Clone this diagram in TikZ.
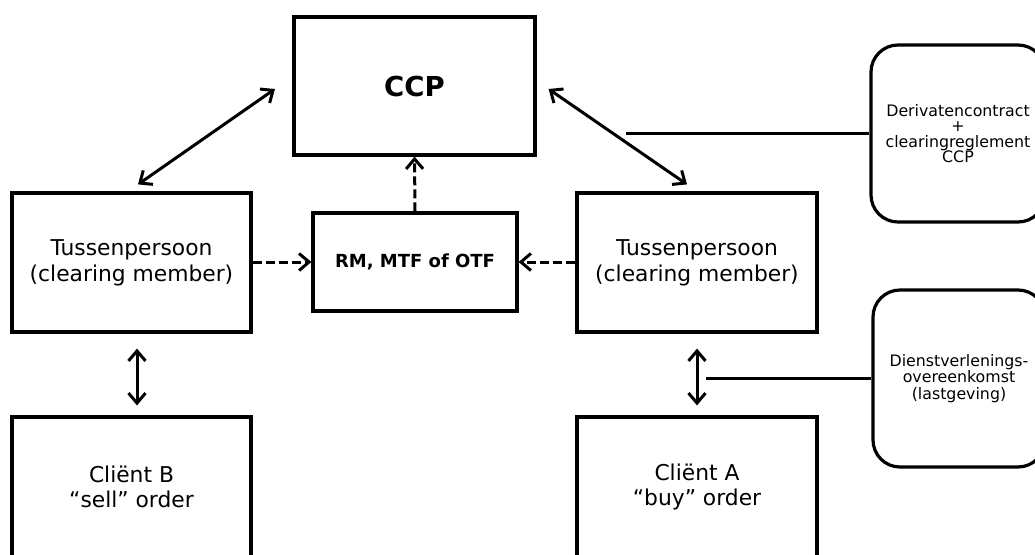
\documentclass[tikz,border=0pt]{standalone}
\usepackage{fontspec}
\setmainfont{DejaVu Sans}
\usetikzlibrary{arrows.meta,calc}
\begin{document}
\begin{tikzpicture}[x=1pt,y=-1pt,
  box/.style={draw,line width=3.2pt,align=center,inner sep=0pt},
  rbox/.style={box,rounded corners=27pt},
  conn/.style={line width=3pt},
  tipx/.tip={Straight Barb[length=10pt,width=17pt,line width=3pt]},
  dbl/.style={conn,tipx-tipx},
  dasharrow/.style={conn,dash pattern=on 9pt off 4pt,-tipx},
  mtext/.style={font=\fontsize{21.8}{26}\selectfont},
  ctext/.style={font=\fontsize{21.8}{25}\selectfont},
]
\useasboundingbox (0,0) rectangle (1035,554);
\clip (0,0) rectangle (1035,554);
\fill[white] (0,0) rectangle (1035,554);

\node[box,minimum width=241pt,minimum height=138pt,font=\fontsize{27.5}{30}\selectfont\bfseries] (CCP) at (414.5,86) {CCP};
\node[box,mtext,minimum width=239pt,minimum height=139pt] (TL) at (131.5,262.5) {Tussenpersoon\\(clearing member)};
\node[box,mtext,minimum width=240pt,minimum height=139pt] (TR) at (697,262.5) {Tussenpersoon\\(clearing member)};
\node[box,minimum width=204pt,minimum height=98pt,font=\fontsize{18}{21}\selectfont\bfseries] (RM) at (415,262) {RM, MTF of OTF};
\node[box,ctext,minimum width=239pt,minimum height=140pt] (CB) at (131.5,487) {Cliënt B\\“sell” order};
\node[box,ctext,minimum width=240pt,minimum height=140pt] (CA) at (697,487) {Cliënt A\\“buy” order};
\node[rbox,minimum width=174pt,minimum height=177pt,font=\fontsize{15.8}{15.5}\selectfont] (DC) at (958,133.5) {Derivatencontract\\+\\clearingreglement\\CCP};
\node[rbox,minimum width=172pt,minimum height=177pt,font=\fontsize{15.8}{16.8}\selectfont] (DV) at (959,378.5) {Dienstverlenings-\\overeenkomst\\(lastgeving)};

\draw[dbl] ([shift={(6.5,-7)}]TL.north) -- ([shift={(-17.5,3)}]CCP.west);
\draw[dbl] ([shift={(12,3)}]CCP.east) -- ([shift={(-10,-7)}]TR.north);
\draw[dbl] ([shift={(5.5,15)}]TL.south) -- ([shift={(5.5,-10)}]CB.north);
\draw[dbl] ([shift={(0,15)}]TR.south) -- ([shift={(0,-10)}]CA.north);

\draw[dasharrow] (TL.east |- RM.west) -- (RM.west);
\draw[dasharrow] (TR.west |- RM.east) -- (RM.east);
\draw[dasharrow] (RM.north) -- (CCP.south);

\coordinate (l1) at (626,133.5);
\coordinate (l2) at (706,378.5);
\draw[conn,line width=3pt] (l1) -- (l1 -| DC.west);
\draw[conn,line width=3pt] (l2) -- (l2 -| DV.west);
\end{tikzpicture}
\end{document}
